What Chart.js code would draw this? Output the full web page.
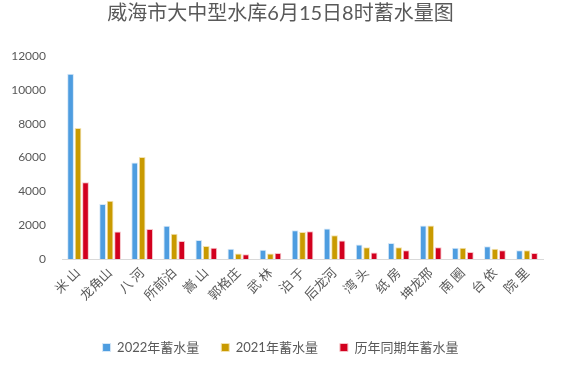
<!DOCTYPE html>
<html>
<head>
<meta charset="utf-8">
<script src="https://cdn.jsdelivr.net/npm/chart.js@4"></script>
<style>
  html, body { margin: 0; padding: 0; background: #ffffff; }
  #wrap { width: 566px; height: 370px; }
</style>
</head>
<body>
<div id="wrap"><canvas id="storageChart" width="566" height="370"></canvas></div>
<script>
// 水库名称
const reservoirs = ['米 山', '龙角山', '八 河', '所前泊', '嵩 山', '郭格庄', '武 林', '泊 于',
  '后龙河', '湾 头', '纸 房', '坤龙邢', '南 圈', '台 依', '院 里'];

// 蓄水量（万立方米）
const storage2022 = [10950, 3250, 5700, 1960, 1130, 610, 550, 1700, 1800, 850, 950, 1980, 670, 750, 510];
const storage2021 = [7750, 3440, 6030, 1500, 770, 320, 320, 1600, 1400, 690, 690, 1980, 670, 610, 510];
const storageAvg = [4530, 1620, 1780, 1070, 670, 280, 350, 1640, 1100, 390, 510, 690, 420, 510, 360];

const yTicks = [0, 2000, 4000, 6000, 8000, 10000, 12000];

const FONT = "Lato, 'Noto Sans CJK SC', sans-serif";
const GREY = '#595959';

new Chart(document.getElementById('storageChart'), {
  type: 'bar',
  data: {
    labels: reservoirs,
    datasets: [
      { label: '2022年蓄水量', data: storage2022, backgroundColor: '#4e9de0', borderColor: '#d6e8f8', borderWidth: 1 },
      { label: '2021年蓄水量', data: storage2021, backgroundColor: '#c99a00', borderColor: '#f3e2b0', borderWidth: 1 },
      { label: '历年同期年蓄水量', data: storageAvg, backgroundColor: '#d2001e', borderColor: '#f6c2c8', borderWidth: 1 }
    ]
  },
  options: {
    responsive: false,
    animation: false,
    layout: { padding: { left: 0, right: 5, top: 0, bottom: 6 } },
    datasets: { bar: { categoryPercentage: 0.7, barPercentage: 0.9 } },
    plugins: {
      title: {
        display: true,
        text: '威海市大中型水库6月15日8时蓄水量图',
        color: GREY,
        font: { family: FONT, size: 20, weight: 'normal' },
        padding: { top: 2, bottom: 30 }
      },
      legend: {
        position: 'bottom',
        labels: {
          color: GREY,
          font: { family: FONT, size: 13 },
          boxWidth: 8,
          boxHeight: 8,
          padding: 22
        }
      },
      tooltip: { enabled: false }
    },
    scales: {
      x: {
        grid: { display: false, drawTicks: false },
        border: { color: '#d9d9d9', width: 1 },
        ticks: {
          color: GREY,
          font: { family: FONT, size: 13 },
          maxRotation: 45,
          minRotation: 45,
          padding: 6
        },
        afterFit: (scale) => { scale.height = 60; }
      },
      y: {
        min: 0,
        max: 12000,
        afterBuildTicks: (scale) => { scale.ticks = yTicks.map(v => ({ value: v })); },
        grid: { display: false, drawTicks: false },
        border: { display: false },
        ticks: {
          color: GREY,
          font: { family: FONT, size: 12 },
          padding: 16,
          callback: (v) => String(v)
        },
        afterFit: (scale) => { scale.width = 62; }
      },
      // 右侧空白留边
      yRight: {
        position: 'right',
        grid: { display: false, drawTicks: false },
        border: { display: false },
        ticks: { display: false },
        afterFit: (scale) => { scale.width = 18; }
      }
    }
  }
});
</script>
</body>
</html>
